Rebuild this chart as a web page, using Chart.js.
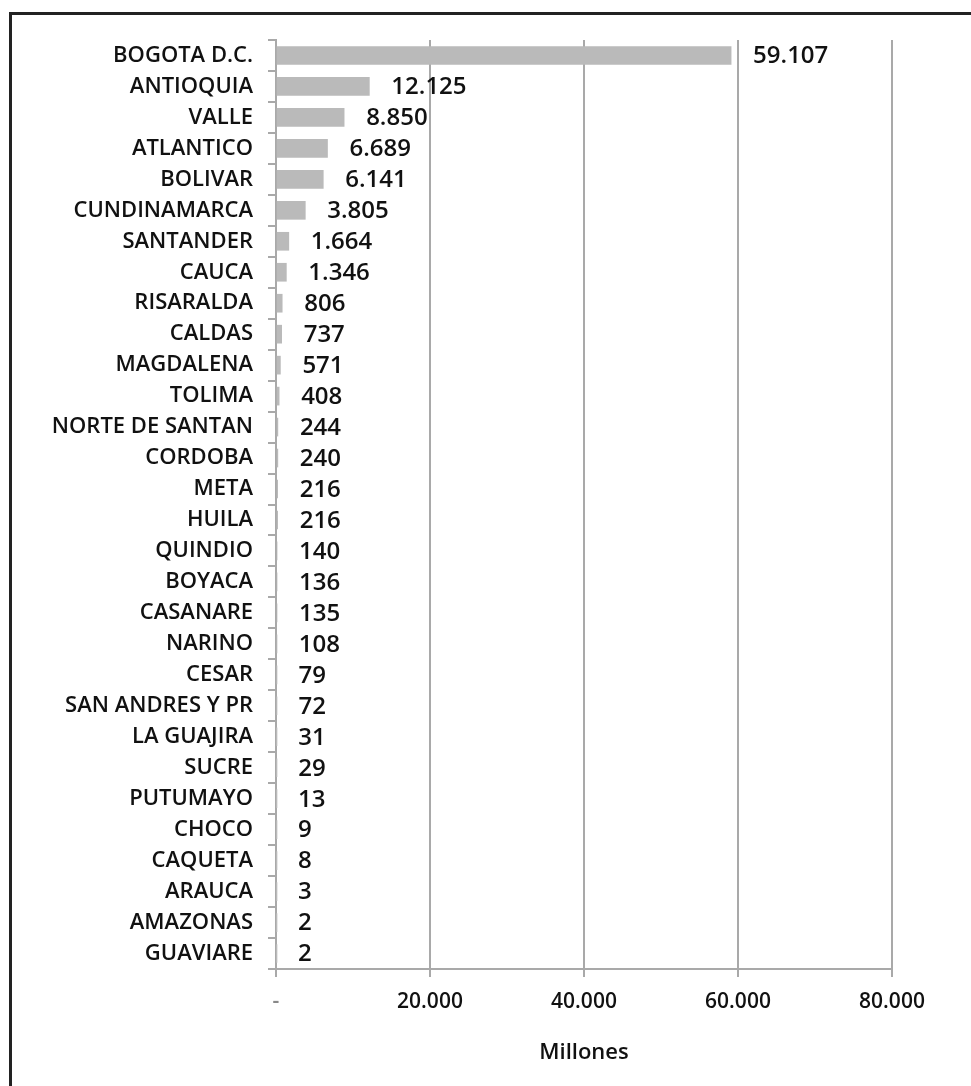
<!DOCTYPE html>
<html>
<head>
<meta charset="utf-8">
<script src="https://cdn.jsdelivr.net/npm/chart.js@4"></script>
<style>
  html, body { margin: 0; padding: 0; background: #fff; overflow: hidden; }
  #wrap { position: absolute; left: 0; top: 0; width: 971px; height: 1086px; }
  #frame { position: absolute; left: 9px; top: 12px; width: 1000px; height: 1100px; border: 3px solid #222; box-sizing: border-box; pointer-events: none; }
</style>
</head>
<body>
<div id="wrap">
  <canvas id="c" width="971" height="1086"></canvas>
  <div id="frame"></div>
</div>
<script>
const categories = ["BOGOTA D.C.", "ANTIOQUIA", "VALLE", "ATLANTICO", "BOLIVAR", "CUNDINAMARCA", "SANTANDER", "CAUCA", "RISARALDA", "CALDAS", "MAGDALENA", "TOLIMA", "NORTE DE SANTAN", "CORDOBA", "META", "HUILA", "QUINDIO", "BOYACA", "CASANARE", "NARINO", "CESAR", "SAN ANDRES Y PR", "LA GUAJIRA", "SUCRE", "PUTUMAYO", "CHOCO", "CAQUETA", "ARAUCA", "AMAZONAS", "GUAVIARE"];
const values = [59107, 12125, 8850, 6689, 6141, 3805, 1664, 1346, 806, 737, 571, 408, 244, 240, 216, 216, 140, 136, 135, 108, 79, 72, 31, 29, 13, 9, 8, 3, 2, 2];
const xTicks = [0, 20000, 40000, 60000, 80000];
const axisTitle = "Millones";

function fmt(v) {
  return String(Math.round(v)).replace(/\B(?=(\d{3})+(?!\d))/g, ".");
}

const FONT = "'Open Sans', 'DejaVu Sans', sans-serif";

const valueLabels = {
  id: 'valueLabels',
  afterDatasetsDraw(chart) {
    const ctx = chart.ctx;
    const meta = chart.getDatasetMeta(0);
    ctx.save();
    ctx.font = "600 24px " + FONT;
    ctx.fillStyle = "#111";
    ctx.textAlign = "left";
    ctx.textBaseline = "middle";
    meta.data.forEach((bar, i) => {
      ctx.fillText(fmt(values[i]), bar.x + 22, bar.y + 1);
    });
    ctx.restore();
  }
};

new Chart(document.getElementById('c'), {
  type: 'bar',
  data: {
    labels: categories,
    datasets: [{
      data: values,
      backgroundColor: '#bababa',
      borderWidth: 0,
      barThickness: 18
    }]
  },
  options: {
    indexAxis: 'y',
    responsive: false,
    animation: false,
    devicePixelRatio: 1,
    layout: { padding: { top: 40, right: 79, bottom: 0, left: 0 } },
    plugins: { legend: { display: false }, tooltip: { enabled: false } },
    scales: {
      x: {
        min: 0,
        max: 80000,
        afterBuildTicks(scale) { scale.ticks = xTicks.map(v => ({ value: v })); },
        afterFit(scale) { scale.height = 117; },
        grid: { color: '#a9a9a9', lineWidth: 2, tickLength: 8, drawTicks: true },
        border: { color: '#a9a9a9', width: 2 },
        ticks: {
          padding: 12,
          color: (c) => c.tick && c.tick.value === 0 ? '#888' : '#111',
          font: { family: FONT, size: 21, weight: '600' },
          callback: (v) => v === 0 ? '-' : fmt(v)
        },
        title: {
          display: true,
          text: axisTitle,
          color: '#111',
          font: { family: FONT, size: 22, weight: '600' },
          padding: { top: 0, bottom: 20 }
        }
      },
      y: {
        afterFit(scale) { scale.width = 276; },
        grid: { drawOnChartArea: false, color: '#a9a9a9', lineWidth: 2, tickLength: 8, offset: true },
        border: { color: '#a9a9a9', width: 2 },
        ticks: {
          padding: 15,
          color: '#111',
          font: { family: FONT, size: 22, weight: '600' },
          autoSkip: false
        }
      }
    }
  },
  plugins: [valueLabels]
});
</script>
</body>
</html>
